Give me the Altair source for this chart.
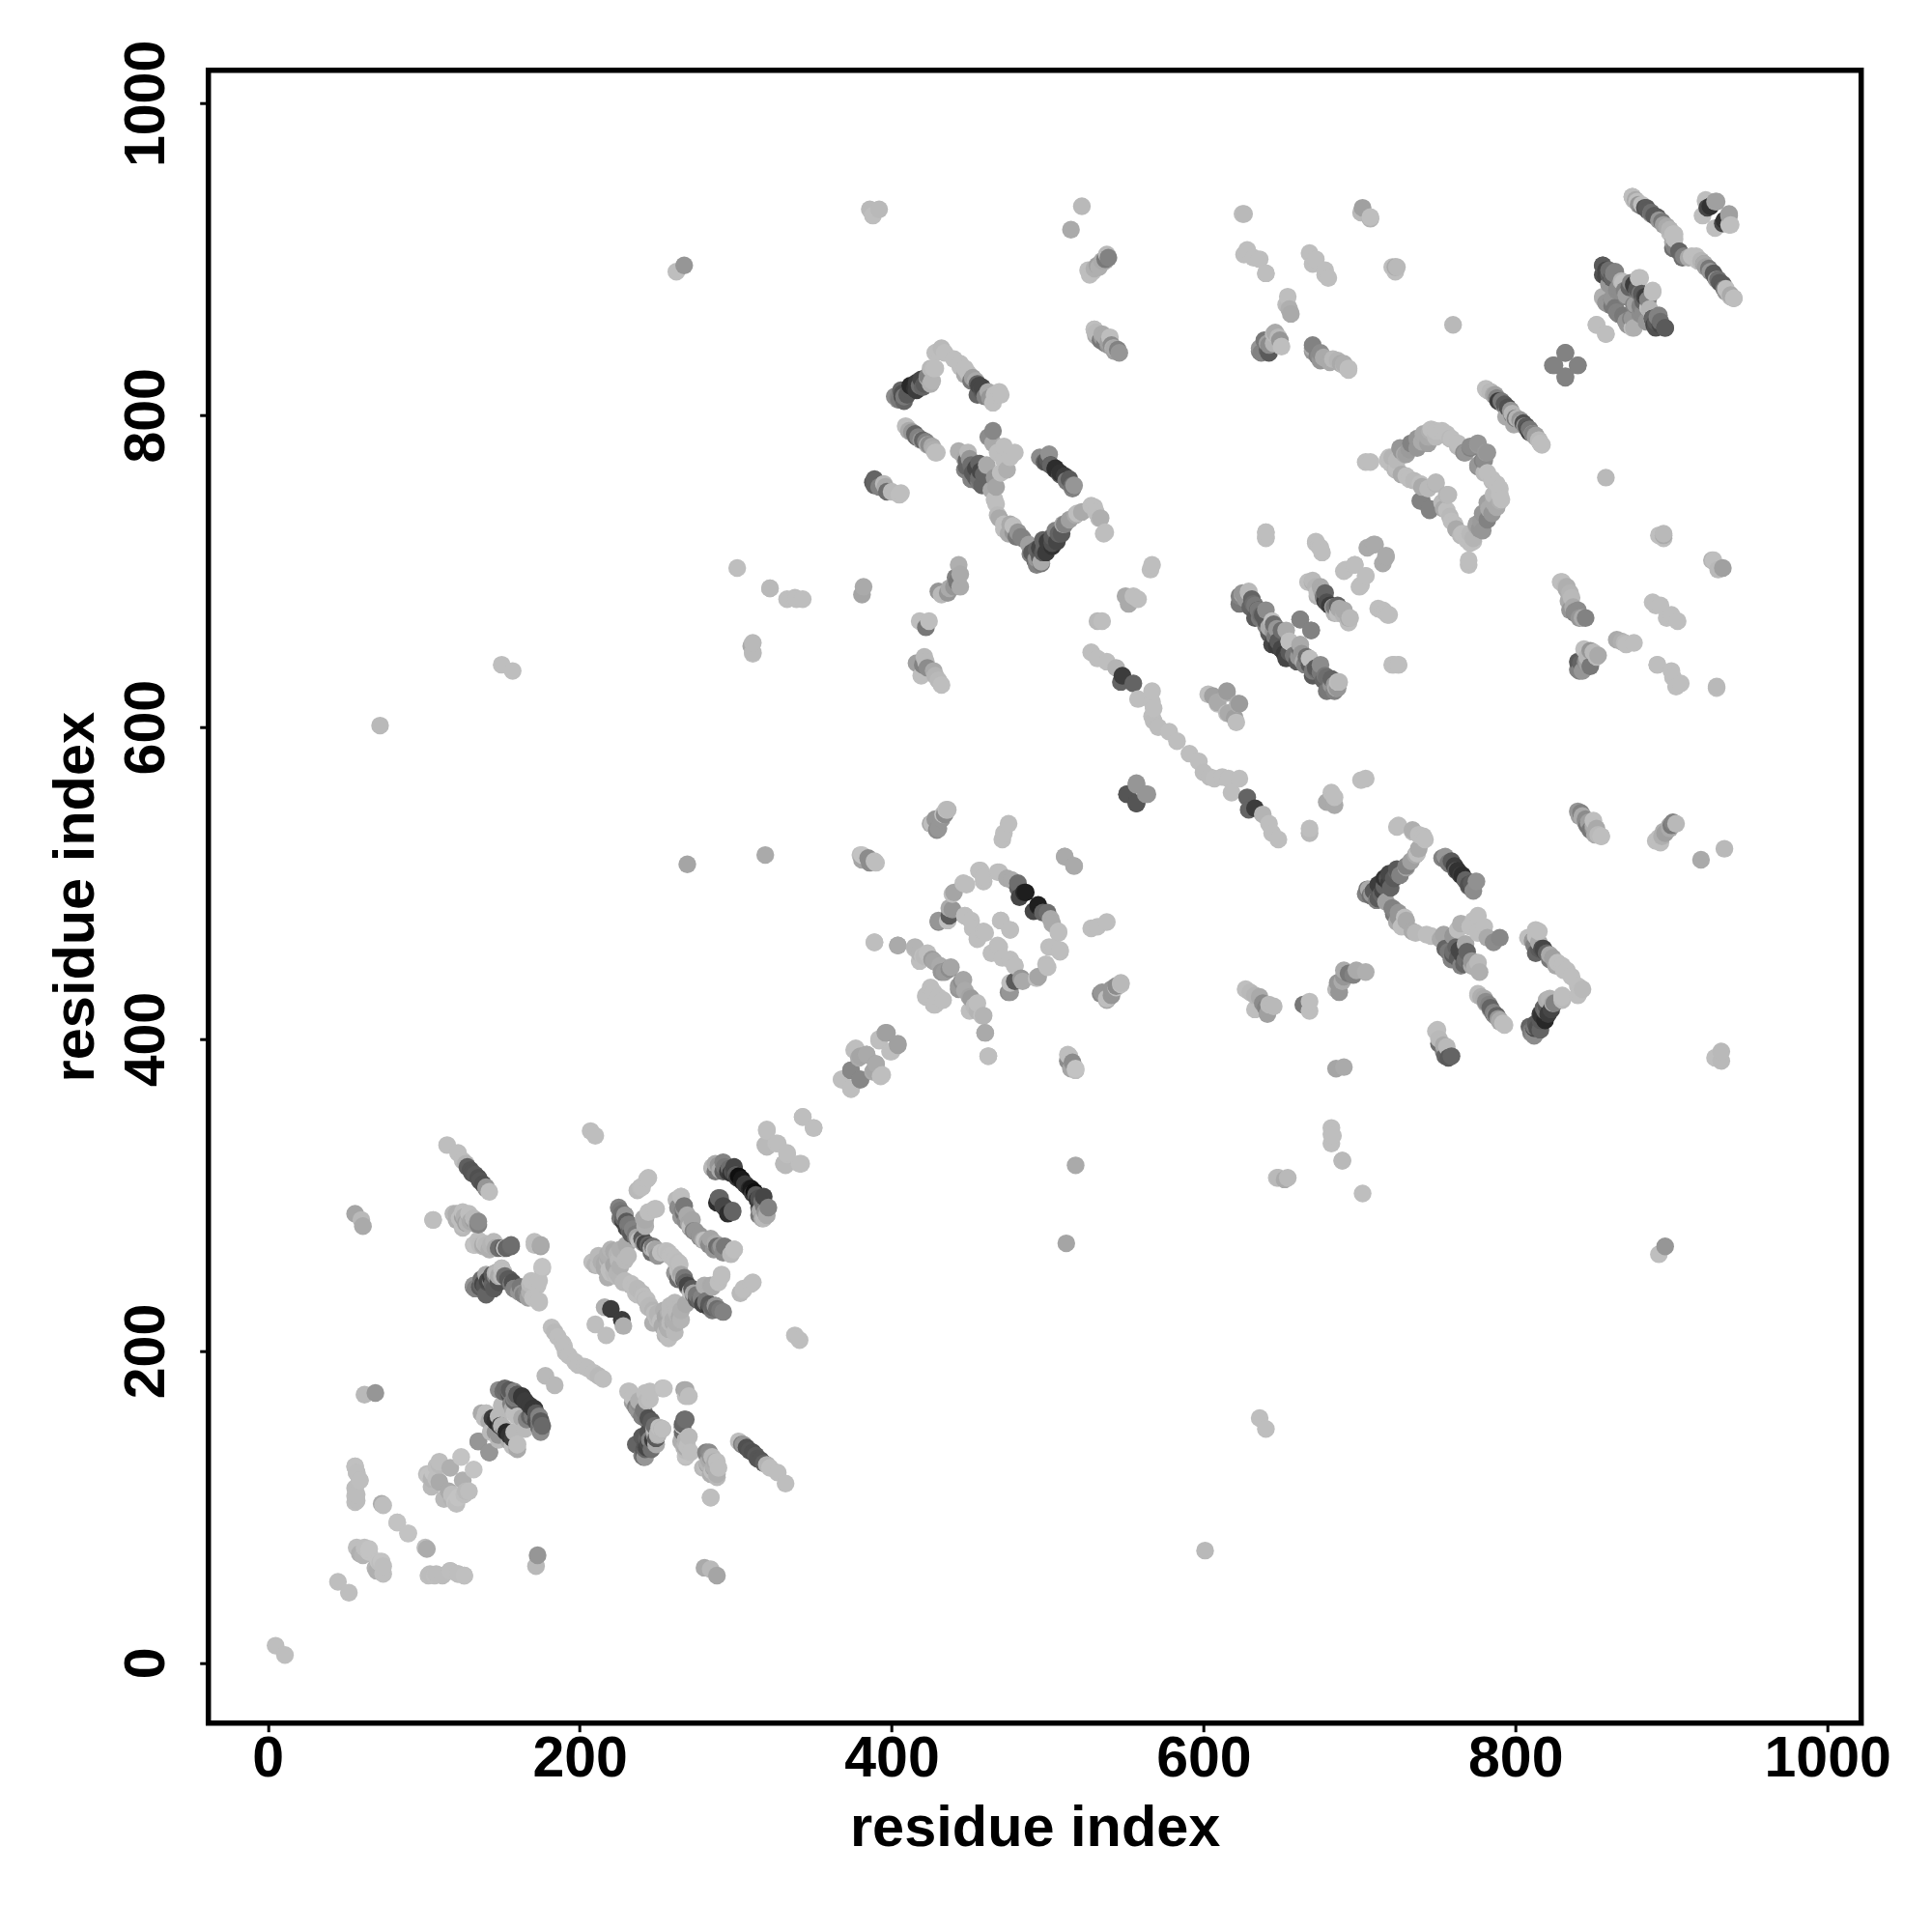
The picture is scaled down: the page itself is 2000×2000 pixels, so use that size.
import altair as alt
import pandas as pd

# each contact: (residue a, residue b, grey level 0-255); the map is symmetric
low_block = [
 (11,5,190),(52,45,190),(103,56,190),(107,56,190),(112,56,188),(117,59,188),(122,57,190),(126,56,190),
 (104,57,188),(108,57,188),(117,59,190),(122,57,190),(126,56,192),
 (101,74,190),(102,73,172),(90,83,195),(83,90,195),
 (74,57,190),(74,62,190),(72,64,190),(70,59,175),(69,61,180),(71,65,195),(73,65,195),
 (132,124,195),(127,110,185),(125,117,175),(116,110,170),(120,103,195),(118,108,190),(122,106,195),(113,105,185),(126,108,190),(110,129,190),(102,121,190),(105,118,180),
 (142,135,140),(135,142,150),
 (160,140,195),(155,146,50),(146,155,50),(140,160,190),(158,148,185),(150,152,180),
 (174,151,110),(176,152,105),(174,158,130),(171,163,55),(170,159,120),(166,156,130),(160,158,190),(168,158,100),(172,155,80),(175,148,140),
 (184,178,185),(215,182,190),(212,184,185),(209,186,190),(205,189,190),(203,190,190),(199,191,190),(197,193,190),
 (227,220,60),(228,216,175),(217,210,190),
 (151,174,110),(155,175,90),(160,172,80),(163,170,55),(158,170,130),(172,160,90),(174,155,120),(168,165,60),(157,163,170),(150,165,185),
 (137,160,170),(142,155,170),(144,157,60),(148,153,40),(152,149,60),(146,148,150),(139,157,190),(143,148,185),
]
strip_130_300 = [
 (115,332,190),(122,327,190),(125,322,190),(128,318,95),(130,316,85),(133,313,90),(136,309,85),(140,305,150),(142,302,190),
 (106,284,190),(121,288,175),(123,285,190),(129,287,170),(132,284,150),(135,281,130),(125,281,190),
 (132,268,190),(136,268,188),(140,268,185),(146,266,170),(151,266,100),(156,267,105),(171,268,190),(175,267,165),
 (132,241,110),(137,242,100),(141,245,70),(144,249,90),(150,253,170),(154,246,90),(158,240,130),(161,238,150),(164,236,130),(174,232,190),(173,242,190),(176,253,190),(169,245,190),(147,250,185),
 (231,174,190),(234,167,160),(237,163,150),(240,158,130),(244,157,80),(251,151,190),(248,148,170),(245,143,130),(242,139,85),(241,136,90),(242,132,150),(244,141,80),(245,174,190),(254,176,195),(243,168,185),(248,150,185),
 (268,175,170),(270,171,190),(268,156,110),(266,152,195),(269,139,190),(268,133,195),(268,143,185),
 (281,134,170),(288,129,190),(282,127,160),(284,121,175),(288,119,185),(279,125,185),(284,106,190),
 (56,288,165),(60,284,185),(61,280,170),(62,172,185),(69,173,150),
 (138,243,90),(143,247,60),(146,248,130),(152,248,110),(156,243,120),(148,244,80),(166,238,140),(170,234,190),
 (135,283,140),(128,282,180),(126,286,175),(138,268,170),(143,268,180),(148,266,110),(153,266,100),
 (236,140,100),(240,145,90),(243,138,70),(240,133,130),(246,137,110),(243,144,100),(238,168,175),(241,162,120),(246,155,90),(250,146,175),(253,150,190),(249,140,170),
 (270,145,185),(271,135,190),(265,142,175),(267,138,180),(283,130,170),(286,125,160),(285,132,185),(289,125,190),
 (304,140,130),(307,138,80),(311,135,80),(314,131,85),(320,127,180),
]
motif_250 = [
 (225,292,130),(229,287,100),(232,281,120),(237,273,165),(242,269,70),(246,266,175),(256,264,190),(249,264,188),(261,259,190),
 (264,255,185),(265,249,165),(267,245,80),(271,238,190),(277,232,100),(283,228,60),(287,229,150),(290,226,120),
 (285,241,170),(291,248,190),(280,242,175),(262,218,175),(265,226,175),
 (255,212,188),(258,218,185),(262,224,180),(254,226,175),(268,230,170),(257,208,190),
 (210,255,180),(220,265,180),(212,261,185),(225,257,175),(216,253,170),(231,261,185),(220,250,190),
 (229,245,185),(235,241,190),(242,233,185),(244,228,185),(248,224,188),(252,219,190),
 (244,289,190),(249,291,190),(242,284,170),(239,305,188),(244,311,190),
 (265,299,190),(267,291,150),(271,280,190),(279,271,165),(282,270,165),(286,265,150),(290,266,130),(293,267,120),(299,265,190),
 (305,240,190),(310,243,190),(303,237,185),
 (226,285,120),(230,283,90),(234,278,130),(236,275,120),(240,272,90),(244,268,100),(248,265,190),(252,263,190),(258,261,190),(263,257,188),(267,247,120),(269,241,150),(273,236,120),(275,233,90),(279,230,70),(281,231,120),(285,228,100),(288,227,110),(261,250,150),(263,246,110),(256,216,170),(260,220,175),(258,225,185),(264,222,170),(250,222,185),(247,226,180),(240,237,185),(236,237,190),(233,243,190),
 (222,255,165),(214,257,175),(218,260,170),(226,262,185),(229,258,185),(224,250,180),(218,247,175),
 (269,287,170),(272,284,165),(274,277,150),(277,273,130),(283,268,140),(288,267,110),(292,263,140),(297,262,185),
]
block_300 = [
 (285,317,165),(290,316,130),(295,315,60),(300,313,30),(302,312,15),(310,304,25),(313,300,90),(317,296,110),(319,289,150),(318,285,185),(316,290,170),
 (290,298,100),(298,289,100),(295,288,45),(293,292,70),
 (350,343,190),(343,350,190),(342,320,190),(333,326,190),(332,319,185),(331,320,185),(320,331,185),(320,341,190),(327,333,190),
 (338,210,190),(341,207,190),
 (287,315,120),(292,315,100),(297,314,50),(304,309,40),(306,307,60),(311,301,60),(315,298,80),(318,293,120),(320,287,170),(321,292,130),(318,299,70),
]
isolated = [
 (72,601,185),(267,896,150),(262,892,190),(269,512,165),(319,518,170),(301,702,190),
 (322,689,190),(310,652,170),(311,648,185),(338,683,190),(343,682,190),(382,690,170),(381,685,165),
 (386,932,185),(392,932,185),(388,928,190),(522,934,185),(515,919,170),(625,929,190),
 (701,930,185),(707,927,190),(721,895,190),(724,895,185),(760,858,185),(704,770,190),(707,770,190),
 (389,462,190),(722,640,190),(725,640,190),(150,640,190),(157,636,190),(462,389,190),
]
group_400 = [
 (380,518,190),(381,515,165),(386,513,140),(390,513,190),(425,538,170),(433,544,190),(435,547,190),(429,534,140),(428,541,150),
 (475,538,190),(472,532,190),(471,528,190),(511,517,170),(517,511,170),
 (547,436,185),(541,432,150),(535,430,150),(538,426,190),(544,434,140),
 (514,389,190),(516,385,140),(518,381,195),
 (397,404,160),(404,396,160),(392,399,190),(400,392,190),(376,393,190),(384,390,160),(380,389,165),(390,384,170),(394,377,190),(374,380,140),(380,374,135),(368,374,190),(374,368,190),(388,379,170),
 (404,460,175),(415,458,190),(421,453,185),(426,451,155),(437,445,140),(432,443,150),(443,434,155),(450,427,165),(455,423,190),(459,415,180),(460,404,170),(450,418,190),
 (427,430,190),(422,427,190),(428,422,190),(433,425,190),(418,455,180),(431,447,170),(446,438,165),(453,420,190),
]
rect_470 = [
 (456,508,190),(459,504,190),(468,507,190),(446,500,190),(439,493,190),(437,484,170),(430,476,150),(436,476,190),(447,479,190),
 (474,503,170),(481,500,110),(486,494,30),(494,485,40),(497,481,100),(491,482,70),(502,477,170),(507,469,190),(508,457,190),(501,459,190),(499,448,190),(494,440,165),(483,439,150),(479,437,90),(475,430,140),
 (452,471,190),(460,468,190),(469,459,190),(476,451,190),(479,447,190),(464,455,190),(470,476,190),(476,470,190),
]
group_630 = [
 (528,648,190),(532,644,190),(538,642,190),(544,638,180),(548,633,60),(547,629,100),(555,628,100),(558,618,190),
 (607,567,190),(612,568,190),(623,567,190),(616,567,190),(604,568,188),(600,571,188),(591,583,190),(597,578,190),
 (551,557,85),(557,551,85),(563,557,150),(557,564,150),
 (668,535,190),(668,532,185),(684,555,190),(684,550,170),(682,558,190),(679,552,170),(704,567,190),(701,566,190),
 (840,546,150),(843,543,170),(850,540,190),(848,534,120),(855,530,190),(892,529,190),(899,537,170),(895,533,175),(903,538,185),
 (842,545,130),(845,539,150),(850,535,150),(851,531,170),(846,537,120),
 (627,432,190),(633,428,180),(638,423,140),(642,422,185),(645,421,185),(633,419,190),(641,416,160),
 (630,430,185),(636,427,170),(640,420,130),
 (668,424,190),(664,422,120),(668,418,190),
 (690,444,170),(704,443,175),(696,441,130),(687,430,150),(685,432,185),(689,437,170),(690,440,150),(693,442,120),(698,444,170),(686,436,150),
]
rect_780_lower = [
 (724,536,190),(734,533,190),(741,530,190),(737,519,190),(730,510,165),(724,507,100),(718,503,80),(716,498,100),(714,493,100),(705,496,120),(704,493,130),(711,489,130),(721,484,130),(729,478,190),(724,475,170),(734,469,170),(743,467,190),(754,467,165),(765,474,175),(776,479,190),(780,472,190),(790,465,135),(762,459,100),(766,454,70),(776,449,185),(759,451,130),(772,447,170),
 (755,516,110),(761,511,60),(766,505,45),(772,500,90),(775,501,145),(770,498,100),
 (808,465,190),(815,469,190),(817,458,80),(813,455,100),(822,454,170),(827,449,190),(833,444,190),(843,432,185),(840,428,190),(830,428,190),(822,426,180),(823,419,70),(817,415,50),(813,410,90),(811,404,130),(809,408,100),(816,406,100),
 (776,429,190),(783,422,130),(786,416,100),(792,410,190),(789,413,150),(780,426,170),
 (750,406,190),(751,397,110),(756,395,185),(755,389,100),(759,389,100),
 (682,339,190),(682,333,190),(689,322,185),(647,311,190),(654,311,185),
 (810,405,120),(814,407,80),(819,412,40),(821,416,60),(825,423,130),(830,425,185),(818,420,100),(812,407,70),
 (778,427,175),(781,424,140),(784,420,100),(787,415,140),(790,411,170),
 (812,460,130),(815,458,90),(819,456,70),(824,452,160),(830,447,190),(836,440,190),(840,434,190),
 (759,514,90),(763,508,50),(768,502,70),(757,513,120),(753,516,130),
 (757,456,120),(760,454,90),(764,457,70),(768,451,110),(772,450,150),(767,448,100),(774,446,175),(769,456,100),
 (712,497,90),(715,495,70),(719,500,60),(722,503,90),(720,497,100),(707,492,110),(709,495,90),(726,505,130),
 (722,480,120),(725,478,150),(727,472,190),
]
rect_820_upper = [
 (430,841,190),(427,830,190),(425,820,175),(421,820,90),(416,816,60),(412,816,90),(408,812,120),(404,810,150),(402,812,140),(418,819,110),(423,824,170),
 (444,831,190),(447,826,170),(451,822,120),(455,820,100),(458,818,70),(462,815,170),(466,813,190),(463,811,150),(470,813,190),
 (409,793,190),(412,790,170),(415,788,100),(419,784,150),(423,781,170),(428,776,190),(417,786,130),
 (388,757,90),(392,754,130),(396,754,170),(400,751,185),(405,749,190),
 (443,777,175),(448,771,100),(447,765,130),(452,763,90),(456,760,110),(458,755,100),(461,768,170),(466,760,150),(470,763,190),(464,752,170),(462,786,140),(465,782,170),(468,776,190),(472,771,190),(476,773,190),
 (466,746,190),(468,736,185),(472,730,190),(476,730,170),(481,725,150),(483,722,130),(488,717,160),(490,712,90),(493,708,150),(496,706,170),(499,712,60),(503,716,50),(506,719,70),(509,724,90),(511,730,130),(514,733,160),(518,736,170),(522,738,170),(528,742,190),(531,738,190),(534,734,175),(537,725,190),
 (495,773,140),(499,770,80),(502,768,100),(505,765,60),(508,762,90),(512,758,120),(517,755,150),
]
group_680 = [
 (640,721,190),(640,725,190),(672,718,190),(675,715,190),(676,712,190),(710,717,170),(717,709,170),(705,715,170),
 (691,701,190),(697,704,190),(704,697,190),(700,690,190),
 (670,694,185),(673,686,190),(678,686,100),(681,678,60),(687,676,170),(693,670,170),(684,673,180),(693,667,190),
 (716,674,190),(719,672,190),
 (625,686,150),(629,686,190),(633,678,120),(638,672,90),(644,668,190),(647,663,150),(653,662,170),(644,653,70),(652,647,60),(662,650,110),(666,645,110),(675,640,140),(670,633,90),(679,632,110),(687,629,185),(684,623,130),(679,623,120),
 (662,669,130),(669,662,130),(655,655,190),
 (606,620,160),(615,622,175),(623,615,155),(609,616,170),(615,609,190),(621,603,190),
 (627,684,150),(631,682,100),(635,675,70),(636,670,120),(640,665,130),(642,660,90),(646,658,140),(648,655,80),(650,650,70),(655,648,90),(658,646,120),(661,645,150),(664,642,170),(668,640,90),(672,637,110),(675,635,120),(677,630,100),(682,627,150),(685,625,170),
 (675,690,170),(677,684,120),(679,680,80),(683,677,150),(690,672,180),
]
rect_750 = [
 (718,771,190),(726,779,150),(737,785,150),(741,788,170),(746,791,190),(753,790,190),(759,785,190),(768,776,150),(776,781,155),(782,776,150),(776,767,140),(782,763,190),(788,756,190),(790,745,175),(783,740,170),(778,732,155),(777,727,150),(773,719,190),(766,724,190),(759,732,190),(756,739,190),(756,749,180),(749,757,185),(740,754,170),(730,761,190),(723,765,185),(740,745,130),(745,739,130),
 (721,773,180),(729,775,170),(733,782,130),(744,786,170),(749,790,190),(763,780,185),(771,780,140),(779,771,130),(785,758,185),(786,749,185),(782,744,160),(779,737,150),(775,730,160),(771,724,185),(769,720,190),(762,727,185),(753,744,185),(735,758,185),(727,762,170),
]
group_upper = [
 (782,816,190),(786,813,170),(791,808,80),(795,804,170),(803,797,150),(807,793,90),(813,787,160),(817,781,190),(811,788,185),(799,794,170),
 (784,815,180),(788,811,130),(789,809,60),(793,806,150),(798,801,180),(800,798,120),(805,795,80),(809,791,120),(815,784,185),
 (832,840,130),(825,832,130),(840,832,130),(832,824,130),(852,858,190),(858,852,190),
 (875,940,170),(879,935,150),(883,933,80),(889,928,90),(897,921,150),(902,916,190),(901,907,110),(908,902,130),(916,901,190),(921,897,170),(927,891,90),(933,884,90),(937,878,190),(940,875,190),
 (877,938,170),(881,934,120),(885,931,90),(887,929,150),(892,925,150),(895,922,160),(899,917,190),(905,905,100),(911,901,170),(913,902,190),(919,899,180),(924,894,120),(930,887,110),(935,881,190),(938,876,190),
 (922,937,190),(925,934,50),(928,937,160),(937,929,160),(933,923,70),(938,922,190),(920,928,190),
 (856,896,90),(864,892,130),(858,889,70),(868,886,180),(880,888,190),(876,884,60),(888,879,190),(883,876,70),(871,877,160),(856,875,190),(862,874,130),(864,869,120),(876,871,130),(885,869,190),(875,862,150),(870,862,120),(876,856,175),(891,863,130),(888,862,50),(896,856,90),(890,856,80),
 (860,893,110),(862,888,100),(866,882,140),(870,880,130),(873,882,100),(878,880,120),(881,878,90),(885,874,130),(880,865,140),(884,860,150),(890,860,90),(893,858,70),(866,865,130),(860,871,150),(872,858,150),
 (829,693,190),(833,690,175),(838,674,140),(843,670,170),(835,675,150),(844,650,190),(840,642,90),(841,636,130),(852,645,185),(846,641,160),
 (871,653,190),(876,654,190),(893,678,190),(900,672,190),(904,668,190),(891,640,190),(900,636,190),(906,628,190),
 (895,723,170),(892,723,190),(926,707,180),(933,702,160),(929,626,185),
 (636,843,150),(642,845,140),(646,853,170),(654,870,185),(656,865,170),(639,848,120),(648,850,185),
 (637,840,130),(641,842,100),(645,846,180),(649,848,150),(655,868,175),
 (670,841,150),(677,837,170),(683,836,185),(693,830,190),(673,838,130),(688,833,170),
 (670,845,130),(675,840,140),(681,834,170),(686,835,180),(690,832,185),
 (670,897,190),(678,890,190),(680,888,190),(626,903,190),(632,901,190),(640,891,190),
 (526,893,190),(535,899,170),(539,901,130),(530,894,175),(527,890,190),(532,896,160),(537,900,120),
 (530,855,190),(535,852,170),(539,847,160),(543,841,160),(531,853,185),(537,850,170),(541,845,140),(542,843,175),
]

groups = [low_block, strip_130_300, motif_250, block_300, isolated, group_400, rect_470,
          group_630, rect_780_lower, rect_820_upper, group_680, rect_750, group_upper]
rows = []
for g in groups:
    for a, b, v in g:
        rows.append((a, b, v))
        rows.append((b, a, v))
rows.sort(key=lambda r: (r[0], r[1]))
df = pd.DataFrame(rows, columns=["x", "y", "v"])
df["c"] = ["#%02x%02x%02x" % (v, v, v) for v in df["v"]]

tick_values = [0, 200, 400, 600, 800, 1000]
axis_common = dict(values=tick_values, domain=False, grid=False, tickColor="black", tickWidth=3,
                   tickSize=9, labelFont="Liberation Sans", labelFontWeight="bold", labelFontSize=59,
                   labelColor="black", titleFont="Liberation Sans", titleFontWeight="bold",
                   titleFontSize=59.5, titleColor="black", format="d", labelOverlap=False, labelFlush=False)

chart = alt.Chart(df).mark_circle(opacity=1, size=339).encode(
    x=alt.X("x:Q", title="residue index", scale=alt.Scale(domain=[-38.1, 1021.7], nice=False, zero=False),
            axis=alt.Axis(labelPadding=-1, titleX=855.5, titleY=127, titleBaseline="alphabetic", **axis_common)),
    y=alt.Y("y:Q", title="residue index", scale=alt.Scale(domain=[-38.6, 1021.2], nice=False, zero=False),
            axis=alt.Axis(labelAngle=270, labelAlign="center", labelBaseline="alphabetic", labelPadding=37,
                          titleX=-119, titleY=855.5, titleAngle=270, titleBaseline="alphabetic", **axis_common)),
    color=alt.Color("c:N", scale=None),
    order=alt.Order("row:Q"),
).transform_window(row="row_number()").properties(
    width=1711, height=1711,
    autosize=alt.AutoSizeParams(type="none"),
    padding={"left": 207.7, "top": 64.7, "right": 60, "bottom": 200},
    view=alt.ViewBackground(stroke="black", strokeWidth=5.5),
).configure(background="white")

chart.save("out.html", embed_options={"renderer": "svg", "actions": False})
